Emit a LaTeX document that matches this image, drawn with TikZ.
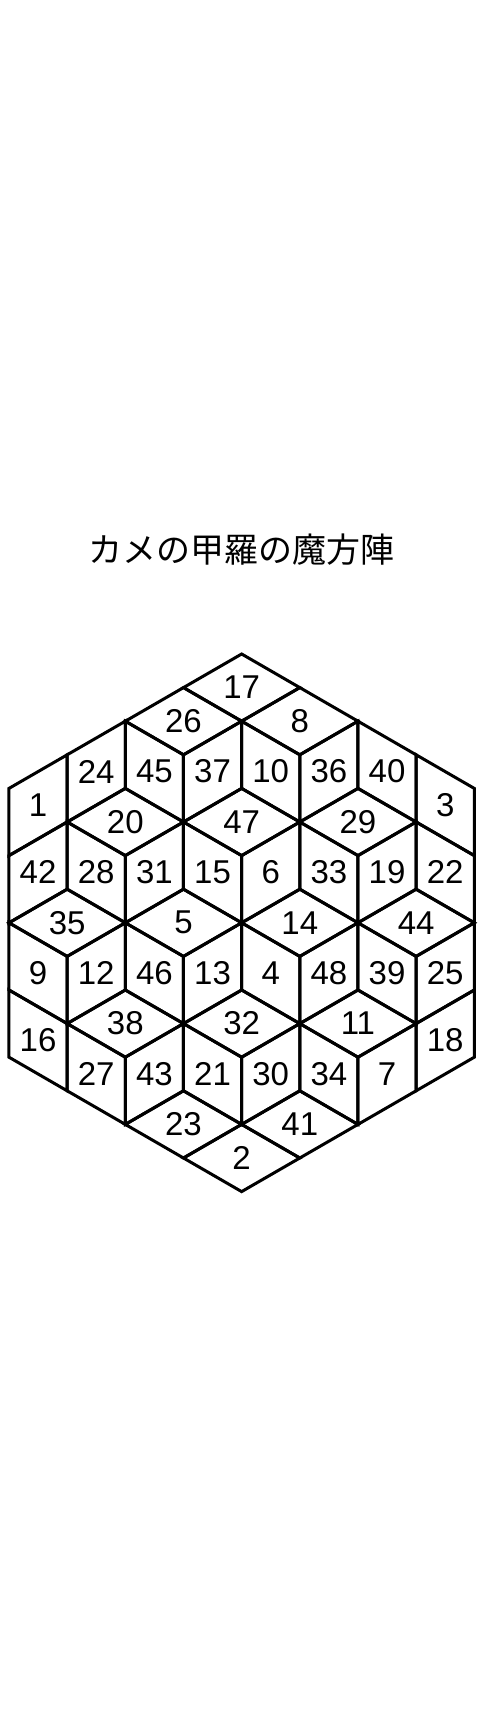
\documentclass[tikz,border=0pt]{standalone}
\usepackage{fontspec}
\setmainfont{Liberation Sans}
\newfontfamily\jpfont{Noto Sans CJK JP}

\begin{document}
\begin{tikzpicture}[x=58.16pt, y=-33.6pt,
  rombo/.style={draw=black, line width=3pt, line join=miter},
  numero/.style={inner sep=0pt, font=\fontsize{33}{33}\selectfont},
  titulo/.style={inner sep=0pt, font=\jpfont\fontsize{34}{34}\selectfont}]
\useasboundingbox (-9pt,654pt) rectangle (472pt,-1074pt);

% Titulo
\node[titulo] (titulo) at (4,-3.1) {カメの甲羅の魔方陣};

% Rombos horizontales
\foreach \k/\m/\n in {4/0/17, 3/1/26, 5/1/8, 2/4/20, 4/4/47, 6/4/29,
    1/7/35, 3/7/5, 5/7/14, 7/7/44, 2/10/38, 4/10/32, 6/10/11,
    3/13/23, 5/13/41, 4/14/2} {
  \draw[rombo] (\k,\m) -- ++(-1,1) -- ++(1,1) -- ++(1,-1) -- cycle;
  \node[numero] (c\n) at (\k,\m+1) {\n};
}

% Rombos verticales (hacia arriba)
\foreach \k/\m/\n in {1/3/24, 3/3/37, 5/3/36, 0/4/1, 0/6/42, 2/6/31,
    4/6/6, 6/6/19, 1/9/12, 3/9/13, 5/9/48, 7/9/25, 7/11/18,
    2/12/43, 4/12/30, 6/12/7} {
  \draw[rombo] (\k,\m) -- ++(1,-1) -- ++(0,2) -- ++(-1,1) -- cycle;
  \node[numero] (c\n) at (\k+0.5,\m+0.5) {\n};
}

% Rombos verticales (hacia abajo)
\foreach \k/\m/\n in {2/2/45, 4/2/10, 6/2/40, 7/3/3, 1/5/28, 3/5/15,
    5/5/33, 7/5/22, 0/8/9, 2/8/46, 4/8/4, 6/8/39, 0/10/16,
    1/11/27, 3/11/21, 5/11/34} {
  \draw[rombo] (\k,\m) -- ++(1,1) -- ++(0,2) -- ++(-1,-1) -- cycle;
  \node[numero] (c\n) at (\k+0.5,\m+1.5) {\n};
}

\end{tikzpicture}
\end{document}
